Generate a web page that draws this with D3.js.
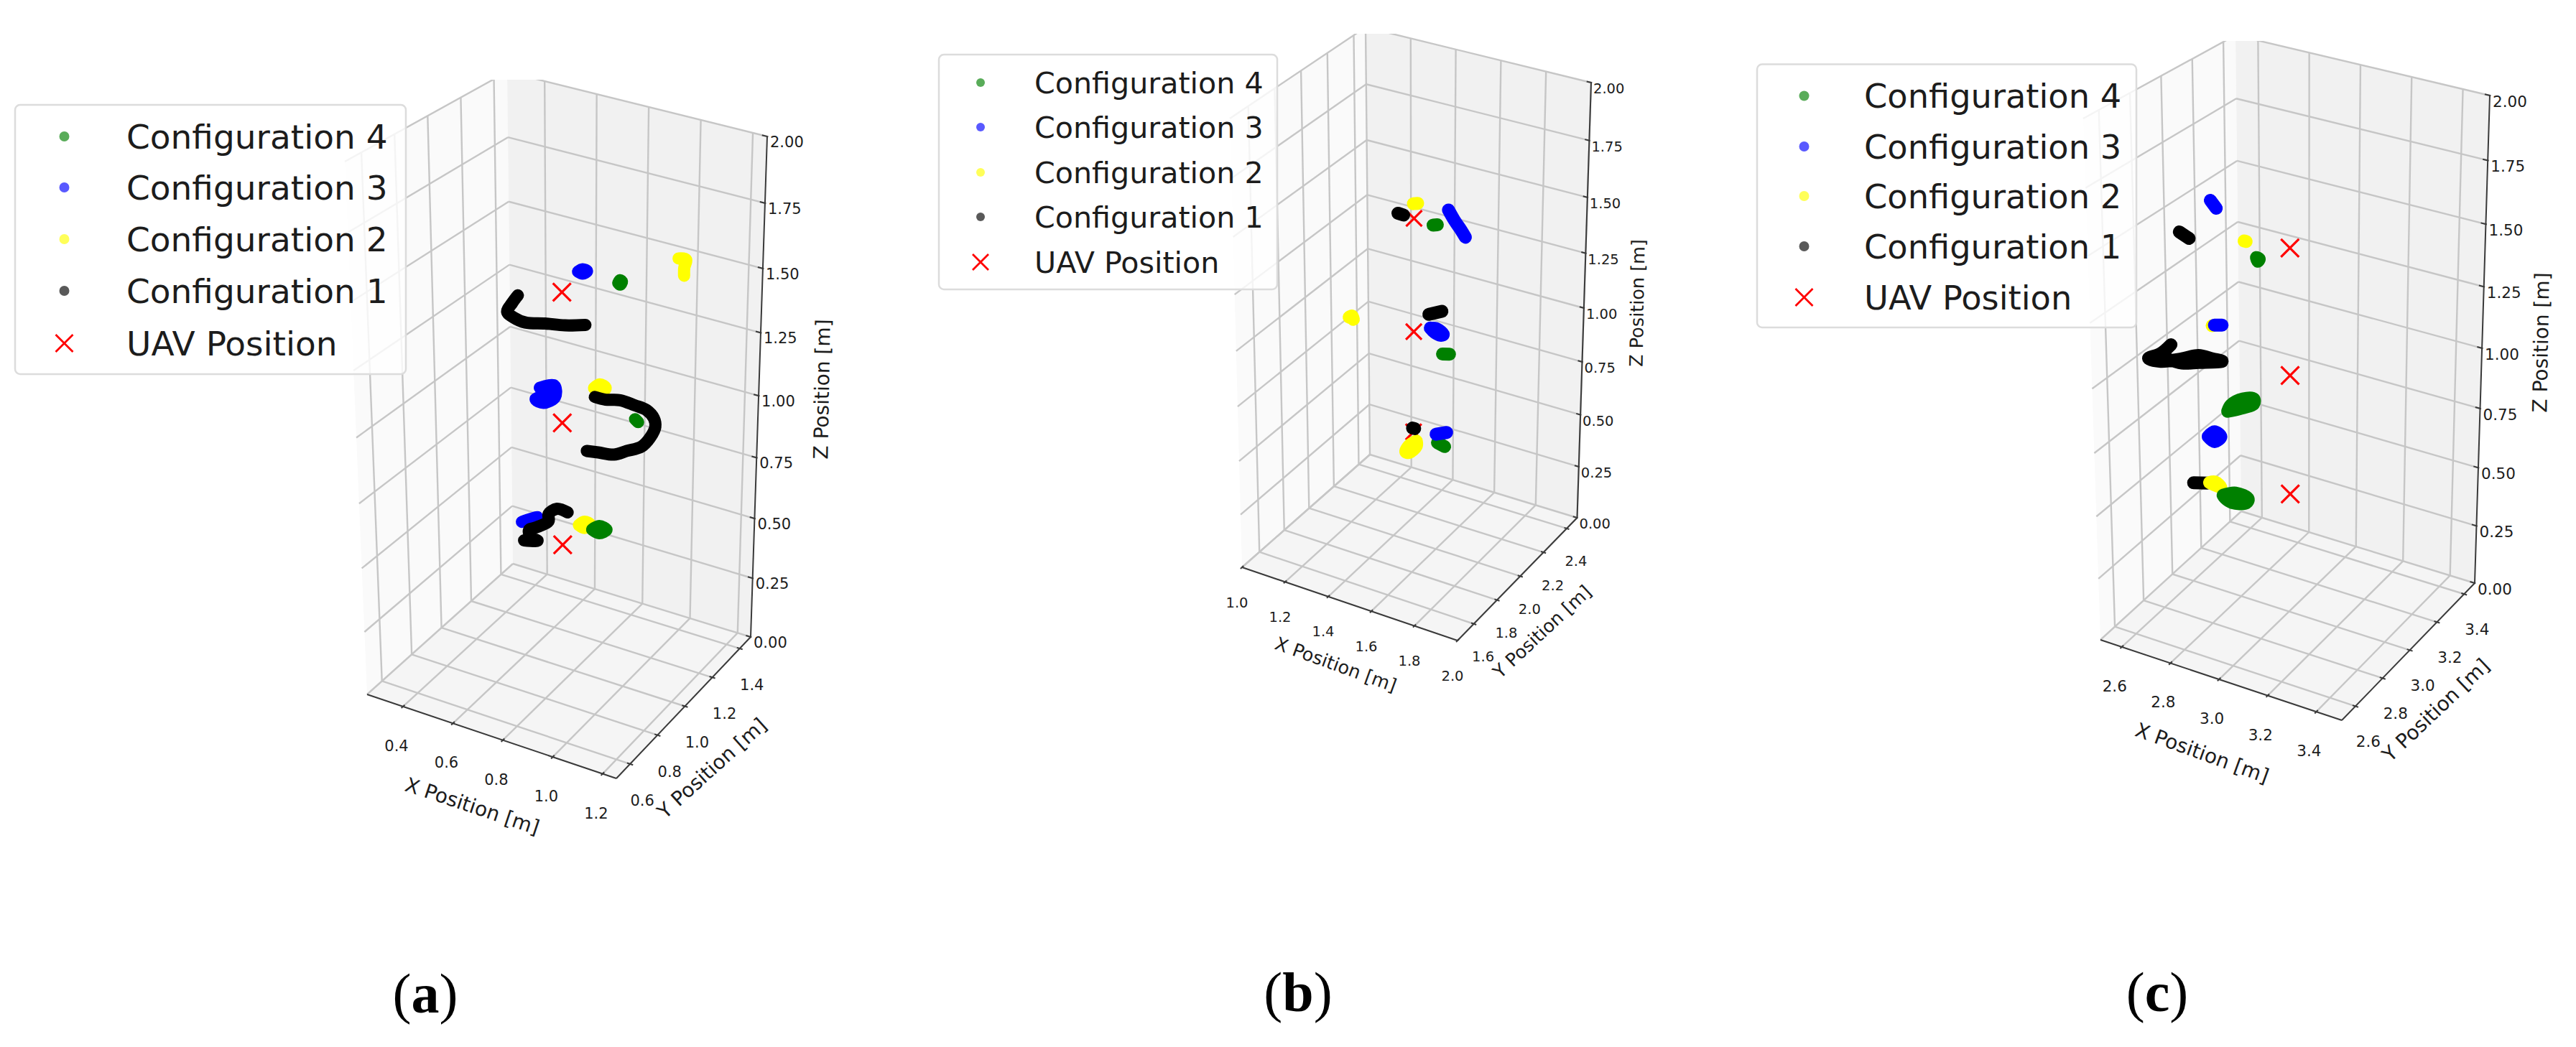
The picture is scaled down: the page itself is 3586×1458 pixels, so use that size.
<!DOCTYPE html>
<html>
<head>
<meta charset="utf-8">
<script src="https://d3js.org/d3.v7.min.js"></script>
<style>
    html, body { margin: 0; padding: 0; background: #ffffff; }
    text { font-family: "DejaVu Sans", sans-serif; fill: #1c1c1c; }
</style>
</head>
<body>
<svg id="figure"></svg>
<script>
// Tick values
const zTicks = [0, 0.25, 0.5, 0.75, 1, 1.25, 1.5, 1.75, 2];
const xTicksA = [0.4, 0.6, 0.8, 1.0, 1.2];
const yTicksA = [0.6, 0.8, 1.0, 1.2, 1.4];
const xTicksB = [1.0, 1.2, 1.4, 1.6, 1.8, 2.0];
const yTicksB = [1.6, 1.8, 2.0, 2.2, 2.4];
const xTicksC = [2.6, 2.8, 3.0, 3.2, 3.4];
const yTicksC = [2.6, 2.8, 3.0, 3.2, 3.4];

const legendNames = ["Configuration 4", "Configuration 3", "Configuration 2", "Configuration 1", "UAV Position"];
const legendColors = ["#008000", "#0000ff", "#ffff00", "#000000", "#ff0000"];

// Values as [x, z]. Depth can't be read from one view,
// so every point sits on the middle Y of its panel (yMidA, yMidB, yMidC).
const yMidA = 0.99;
const uavA = [[0.761, 1.478], [0.761, 0.983], [0.761, 0.504]];
const config1A = [
    [[0.592, 1.423], [0.570, 1.389], [0.550, 1.350], [0.575, 1.335], [0.620, 1.328], [0.696, 1.344], [0.772, 1.357], [0.851, 1.379]],
    [[0.888, 1.117], [0.930, 1.118], [0.986, 1.131], [1.043, 1.127], [1.090, 1.121], [1.118, 1.098], [1.124, 1.067], [1.104, 1.020], [1.071, 0.977], [1.014, 0.945], [0.964, 0.917], [0.902, 0.908], [0.857, 0.901]],
    [[0.781, 0.639], [0.739, 0.641], [0.705, 0.610], [0.705, 0.582], [0.660, 0.545], [0.626, 0.522], [0.635, 0.496], [0.660, 0.490], [0.606, 0.475]]
];
const config2A = [
    [[1.203, 1.711], [1.231, 1.714], [1.225, 1.682], [1.225, 1.654]],
    [[0.885, 1.150], [0.907, 1.170], [0.930, 1.162], [0.907, 1.137], [0.885, 1.150]],
    [[0.826, 0.602], [0.848, 0.622], [0.871, 0.617], [0.848, 0.597], [0.826, 0.602]]
];
const config3A = [
    [[0.823, 1.570], [0.840, 1.583], [0.857, 1.580], [0.840, 1.567], [0.823, 1.570]],
    [[0.674, 1.094], [0.730, 1.118], [0.733, 1.075], [0.688, 1.040], [0.657, 1.045], [0.696, 1.075], [0.674, 1.094]],
    [[0.598, 0.547], [0.660, 0.584], [0.626, 0.555]]
];
const config4A = [
    [[0.976, 1.566], [0.983, 1.578], [0.990, 1.574], [0.983, 1.562], [0.976, 1.566]],
    [[1.045, 1.075], [1.057, 1.067]],
    [[0.879, 0.600], [0.907, 0.622], [0.936, 0.616], [0.907, 0.594], [0.879, 0.600]]
];

const yMidB = 1.975;
const uavB = [[1.508, 1.471], [1.508, 0.979], [1.508, 0.529]];
const config1B = [
    [[1.436, 1.479], [1.462, 1.476]],
    [[1.576, 1.071], [1.635, 1.098]],
    [[1.503, 0.545], [1.513, 0.545]]
];
const config2B = [
    [[1.505, 1.533], [1.524, 1.538]],
    [[1.214, 0.973], [1.227, 0.982], [1.233, 0.968]],
    [[1.521, 0.490], [1.488, 0.461], [1.472, 0.428], [1.488, 0.429], [1.521, 0.468], [1.521, 0.490]]
];
const config3B = [
    [[1.661, 1.536], [1.688, 1.497], [1.717, 1.463], [1.737, 1.436]],
    [[1.583, 1.013], [1.612, 1.016], [1.642, 0.998], [1.629, 0.992], [1.603, 0.998], [1.583, 1.013]],
    [[1.612, 0.547], [1.661, 0.568]]
];
const config4B = [
    [[1.593, 1.459], [1.612, 1.464]],
    [[1.639, 0.912], [1.671, 0.919]],
    [[1.619, 0.510], [1.652, 0.502]]
];

const yMidC = 2.989;
const uavC = [[3.012, 1.470], [3.012, 0.975], [3.012, 0.499]];
const config1C = [
    [[2.577, 1.425], [2.615, 1.409]],
    [[2.534, 0.968], [2.491, 0.920], [2.442, 0.887], [2.491, 0.889], [2.577, 0.923], [2.644, 0.955], [2.701, 0.957], [2.739, 0.958], [2.644, 0.927], [2.577, 0.906], [2.491, 0.909]],
    [[2.615, 0.426], [2.672, 0.442]]
];
const config2C = [
    [[2.832, 1.453], [2.840, 1.453]],
    [[2.701, 1.089]],
    [[2.681, 0.447], [2.704, 0.456], [2.727, 0.442], [2.681, 0.447]]
];
const config3C = [
    [[2.701, 1.577], [2.724, 1.552]],
    [[2.710, 1.094], [2.741, 1.102]],
    [[2.678, 0.636], [2.704, 0.663], [2.730, 0.650], [2.704, 0.623], [2.678, 0.636]]
];
const config4C = [
    [[2.880, 1.401], [2.891, 1.398], [2.885, 1.388], [2.880, 1.401]],
    [[2.759, 0.762], [2.810, 0.788], [2.865, 0.822], [2.865, 0.842], [2.822, 0.830], [2.773, 0.792], [2.759, 0.762]],
    [[2.736, 0.411], [2.788, 0.436], [2.839, 0.427], [2.831, 0.408], [2.773, 0.392], [2.744, 0.402], [2.736, 0.411]]
];

const width = 3586;
const height = 1458;

const svg = d3.select("#figure")
    .attr("width", width)
    .attr("height", height);

const panels = [
    {
        id: "a", xTicks: xTicksA, yTicks: yTicksA, yMid: yMidA, uav: uavA,
        xDomain: [0.256, 1.255], yDomain: [0.5, 1.48],
        // in paint order
        series: [[config3A, "#0000ff"], [config2A, "#ffff00"], [config4A, "#008000"], [config1A, "#000000"]],
        box: { A0: [511, 967], B0: [858, 1084], C0: [1045, 887], D0: [714, 785], A2: [480, 225], B2: [864, 314], C2: [1068, 190], D2: [706, 100] },
        clipTop: 111, dot: 8.5, cross: 12.5,
        tickFont: 21, xLabelOff: [-9, 56], yLabelOff: [17, 52], zLabelOff: [4, 15],
        xTitle: [657, 1124, 18.5], yTitle: [992, 1071, -42], zTitle: [1146, 542, -89], titleFont: 28,
        legend: { x: 21, y: 146, w: 544, h: 375, rows: [190, 261, 333, 405, 478], markerX: 89.5, textX: 176, font: 47, r: 7, cross: 12 },
        tag: [592, 1410]
    },
    {
        id: "b", xTicks: xTicksB, yTicks: yTicksB, yMid: yMidB, uav: uavB,
        xDomain: [1, 2], yDomain: [1.46, 2.49],
        series: [[config2B, "#ffff00"], [config4B, "#008000"], [config3B, "#0000ff"], [config1B, "#000000"]],
        box: { A0: [1729, 790], B0: [2029, 892], C0: [2195.5, 721], D0: [1907, 633], A2: [1712, 165], B2: [2037, 192], C2: [2215, 115], D2: [1901, 38] },
        clipTop: 47, dot: 9, cross: 11,
        tickFont: 19.5, xLabelOff: [-7, 50], yLabelOff: [13, 47], zLabelOff: [3, 15],
        xTitle: [1859, 927, 20], yTitle: [2148, 881, -43], zTitle: [2281, 422, -89], titleFont: 25.5,
        legend: { x: 1307, y: 76, w: 471, h: 327, rows: [115, 177, 240, 302, 365], markerX: 1365, textX: 1440, font: 41.2, r: 6, cross: 11 },
        tag: [1807, 1408]
    },
    {
        id: "c", xTicks: xTicksC, yTicks: yTicksC, yMid: yMidC, uav: uavC,
        xDomain: [2.512, 3.505], yDomain: [2.5, 3.478],
        series: [[config1C, "#000000"], [config2C, "#ffff00"], [config4C, "#008000"], [config3C, "#0000ff"]],
        box: { A0: [2924, 891], B0: [3260, 1003], C0: [3445, 812], D0: [3120, 712], A2: [2900, 165], B2: [3267, 243], C2: [3466, 133], D2: [3112, 49] },
        clipTop: 57, dot: 9, cross: 12.5,
        tickFont: 21.5, xLabelOff: [-10, 56], yLabelOff: [18, 51], zLabelOff: [4, 16],
        xTitle: [3065, 1050, 20], yTitle: [3392, 990, -43.5], zTitle: [3539, 477, -89], titleFont: 28,
        legend: { x: 2446, y: 89.5, w: 528, h: 366.5, rows: [133.5, 204, 273, 343, 414], markerX: 2511.5, textX: 2595, font: 46.3, r: 7, cross: 12 },
        tag: [3003, 1408]
    }
];

// perspective pull along the vertical axis
function warp(t)
{
    const k = 0.93;
    return t * k / (1 + (k - 1) * t);
}

function makeProjection(p)
{
    const b = p.box;
    const xScale = d3.scaleLinear().domain(p.xDomain).range([0, 1]);
    const yScale = d3.scaleLinear().domain(p.yDomain).range([0, 1]);
    const zScale = d3.scaleLinear().domain([0, 2]).range([0, 1]);

    const at = (u, v, w) => {
        const out = [0, 0];
        for (let i = 0; i < 2; i++)
        {
            const low = (b.A0[i] * (1 - u) + b.B0[i] * u) * (1 - v) + (b.D0[i] * (1 - u) + b.C0[i] * u) * v;
            const top = (b.A2[i] * (1 - u) + b.B2[i] * u) * (1 - v) + (b.D2[i] * (1 - u) + b.C2[i] * u) * v;
            out[i] = low * (1 - w) + top * w;
        }
        return out;
    };

    return {
        xScale, yScale, zScale, at,
        project: (x, y, z) => at(xScale(x), yScale(y), warp(zScale(z)))
    };
}

const lineGen = d3.line();
const trackGen = d3.line().curve(d3.curveCatmullRom.alpha(0.5));

function drawPanes(g, p, proj)
{
    const b = p.box;
    g.append("path").attr("d", lineGen([b.A0, b.D0, b.D2, b.A2]) + "Z").attr("fill", "#fafafa");
    g.append("path").attr("d", lineGen([b.D0, b.C0, b.C2, b.D2]) + "Z").attr("fill", "#f1f1f1");
    g.append("path").attr("d", lineGen([b.A0, b.B0, b.C0, b.D0]) + "Z").attr("fill", "#f5f5f5");

    const grid = [];
    p.xTicks.forEach(t => {
        const u = proj.xScale(t);
        grid.push([proj.at(u, 1, 0), proj.at(u, 1, 1)]);
        grid.push([proj.at(u, 0, 0), proj.at(u, 1, 0)]);
    });
    p.yTicks.forEach(t => {
        const v = proj.yScale(t);
        grid.push([proj.at(0, v, 0), proj.at(0, v, 1)]);
        grid.push([proj.at(0, v, 0), proj.at(1, v, 0)]);
    });
    zTicks.forEach(t => {
        const w = warp(proj.zScale(t));
        grid.push([proj.at(0, 0, w), proj.at(0, 1, w)]);
        grid.push([proj.at(0, 1, w), proj.at(1, 1, w)]);
    });

    g.selectAll(".grid")
        .data(grid)
        .enter().append("path")
        .attr("class", "grid")
        .attr("d", d => lineGen(d))
        .attr("fill", "none")
        .attr("stroke", "#c6c6c6")
        .attr("stroke-width", 2.4);
}

function drawAxes(g, p, proj)
{
    const b = p.box;
    const axes = [[b.A0, b.B0], [b.B0, b.C0], [b.C0, b.C2]];
    p.xTicks.forEach(t => {
        const u = proj.xScale(t);
        axes.push([proj.at(u, -0.012, 0), proj.at(u, 0.012, 0)]);
    });
    p.yTicks.forEach(t => {
        const v = proj.yScale(t);
        axes.push([proj.at(1.012, v, 0), proj.at(0.988, v, 0)]);
    });
    zTicks.forEach(t => {
        const w = warp(proj.zScale(t));
        axes.push([proj.at(1.004, 1, w), proj.at(0.98, 1, w)]);
    });

    g.selectAll(".axis-line")
        .data(axes)
        .enter().append("path")
        .attr("class", "axis-line")
        .attr("d", d => lineGen(d))
        .attr("fill", "none")
        .attr("stroke", "#3a3a3a")
        .attr("stroke-width", 2);

    p.xTicks.forEach(t => {
        const pos = proj.at(proj.xScale(t), 0, 0);
        g.append("text")
            .attr("x", pos[0] + p.xLabelOff[0])
            .attr("y", pos[1] + p.xLabelOff[1])
            .attr("text-anchor", "middle")
            .attr("dominant-baseline", "middle")
            .style("font-size", p.tickFont + "px")
            .text(t.toFixed(1));
    });
    p.yTicks.forEach(t => {
        const pos = proj.at(1, proj.yScale(t), 0);
        g.append("text")
            .attr("x", pos[0] + p.yLabelOff[0])
            .attr("y", pos[1] + p.yLabelOff[1])
            .attr("text-anchor", "middle")
            .attr("dominant-baseline", "middle")
            .style("font-size", p.tickFont + "px")
            .text(t.toFixed(1));
    });
    zTicks.forEach(t => {
        const pos = proj.at(1, 1, warp(proj.zScale(t)));
        g.append("text")
            .attr("x", pos[0] + p.zLabelOff[0])
            .attr("y", pos[1] + p.zLabelOff[1])
            .style("font-size", p.tickFont + "px")
            .text(t.toFixed(2));
    });

    const titles = [["X Position [m]", p.xTitle], ["Y Position [m]", p.yTitle], ["Z Position [m]", p.zTitle]];
    titles.forEach(([label, t]) => {
        g.append("text")
            .attr("transform", `translate(${t[0]},${t[1]}) rotate(${t[2]})`)
            .attr("text-anchor", "middle")
            .attr("dominant-baseline", "middle")
            .style("font-size", p.titleFont + "px")
            .text(label);
    });
}

function crossPath(h)
{
    return `M${-h},${-h}L${h},${h}M${-h},${h}L${h},${-h}`;
}

function drawMarks(g, p, proj)
{
    g.selectAll(".uav")
        .data(p.uav)
        .enter().append("path")
        .attr("class", "uav")
        .attr("transform", d => {
            const pos = proj.project(d[0], p.yMid, d[1]);
            return `translate(${pos[0]},${pos[1]})`;
        })
        .attr("d", crossPath(p.cross))
        .attr("fill", "none")
        .attr("stroke", "#ff0000")
        .attr("stroke-width", 3.2);

    // each cluster is a run of overlapping dots, so a round thick line draws it
    p.series.forEach(([tracks, color]) => {
        g.append("g").selectAll("path")
            .data(tracks)
            .enter().append("path")
            .attr("d", d => {
                const pts = d.map(v => proj.project(v[0], p.yMid, v[1]));
                if (pts.length === 1) return lineGen([pts[0], pts[0]]);
                return trackGen(pts);
            })
            .attr("fill", "none")
            .attr("stroke", color)
            .attr("stroke-width", p.dot * 2)
            .attr("stroke-linecap", "round")
            .attr("stroke-linejoin", "round");
    });
}

function drawLegend(g, p)
{
    const l = p.legend;
    g.append("rect")
        .attr("x", l.x)
        .attr("y", l.y)
        .attr("width", l.w)
        .attr("height", l.h)
        .attr("rx", 7)
        .attr("fill", "#ffffff")
        .attr("fill-opacity", 0.8)
        .attr("stroke", "#dcdcdc")
        .attr("stroke-width", 2.5);

    legendNames.forEach((name, i) => {
        if (i < 4)
        {
            g.append("circle")
                .attr("cx", l.markerX)
                .attr("cy", l.rows[i])
                .attr("r", l.r)
                .attr("fill", legendColors[i])
                .attr("fill-opacity", 0.65);
        }
        else
        {
            g.append("path")
                .attr("transform", `translate(${l.markerX},${l.rows[i]})`)
                .attr("d", crossPath(l.cross))
                .attr("fill", "none")
                .attr("stroke", legendColors[i])
                .attr("stroke-width", 2.8);
        }
        g.append("text")
            .attr("x", l.textX)
            .attr("y", l.rows[i])
            .attr("dy", "0.36em")
            .style("font-size", l.font + "px")
            .text(name);
    });
}

function drawTag(p)
{
    const t = svg.append("text")
        .attr("x", p.tag[0])
        .attr("y", p.tag[1])
        .attr("text-anchor", "middle")
        .style("font-family", '"Liberation Serif", serif')
        .style("font-size", "78px")
        .style("fill", "#000000");
    t.append("tspan").text("(");
    t.append("tspan").style("font-weight", "bold").text(p.id);
    t.append("tspan").text(")");
}

panels.forEach(p => {
    const proj = makeProjection(p);

    svg.append("clipPath")
        .attr("id", "clip-" + p.id)
        .append("rect")
        .attr("x", p.box.A2[0] - 60)
        .attr("y", p.clipTop)
        .attr("width", p.box.C2[0] - p.box.A2[0] + 120)
        .attr("height", height - p.clipTop);

    const g = svg.append("g").attr("clip-path", `url(#clip-${p.id})`);
    drawPanes(g, p, proj);

    const top = svg.append("g");
    drawAxes(top, p, proj);
    drawMarks(top, p, proj);
    drawLegend(top, p);
    drawTag(p);
});
</script>
</body>
</html>
